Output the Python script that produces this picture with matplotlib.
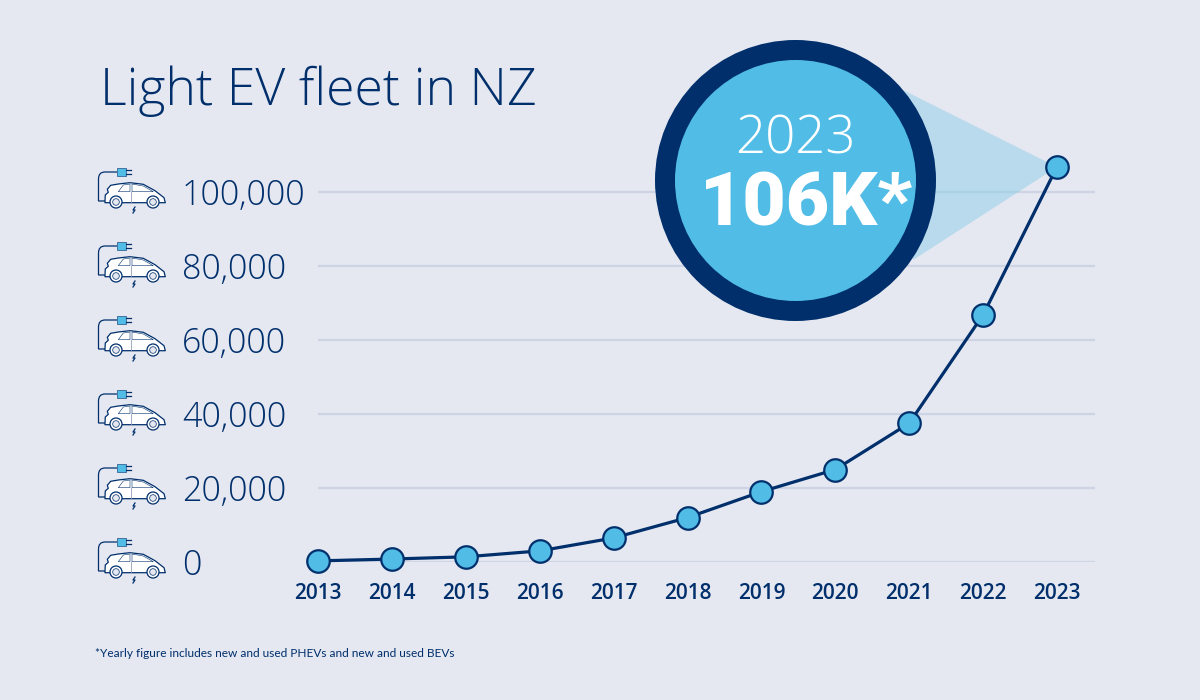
import matplotlib
matplotlib.use('Agg')
import matplotlib.pyplot as plt
from matplotlib.patches import Circle, Polygon, Rectangle, PathPatch
from matplotlib.path import Path

years = [2013, 2014, 2015, 2016, 2017, 2018, 2019, 2020, 2021, 2022, 2023]
fleet = [300, 800, 1400, 3000, 6500, 12000, 19000, 25000, 37500, 66800, 106800]
y_ticks = [0, 20000, 40000, 60000, 80000, 100000]
y_labels = ['0', '20,000', '40,000', '60,000', '80,000', '100,000']

NAVY = '#002F6C'
BLUE = '#51BCE6'
BG = '#E5E8F1'
GRID = '#CDD4E4'
W, H = 1200, 700

plt.rcParams['font.family'] = ['Open Sans', 'DejaVu Sans']

fig = plt.figure(figsize=(12, 7), dpi=100, facecolor=BG)

# chart axes: left edge is 2013, bottom edge is 0
ax = fig.add_axes([318 / W, (H - 562) / H, (1095 - 318) / W, (562 - 150) / H], zorder=1)
ax.set_facecolor('none')
ax.set_xlim(2013, 2013 + (1095 - 318) / 73.9)
ax.set_ylim(0, (562 - 150) / 3.7 * 1000)
for s in ax.spines.values():
    s.set_visible(False)

ax.set_axisbelow(True)
ax.set_yticks(y_ticks)
ax.set_yticklabels(y_labels, ha='left', va='center_baseline', fontsize=24.5, color=NAVY, fontweight='light')
ax.tick_params(axis='y', length=0, pad=98)
ax.grid(axis='y', color=GRID, lw=1.6)
ax.set_xticks(years)
ax.set_xticklabels(years, fontsize=15, color=NAVY, fontweight='semibold')
ax.tick_params(axis='x', length=0, pad=15)

ax.plot(years, fleet, color=NAVY, lw=2.3, marker='o', ms=16.2, mfc=BLUE, mec=NAVY,
        mew=1.6, clip_on=False, zorder=3)

# pixel axes for the callout and the icons
deco = fig.add_axes([0, 0, 1, 1], zorder=2)
deco.set_xlim(0, W)
deco.set_ylim(H, 0)
deco.axis('off')

ax.add_patch(Polygon([(903, 90), (1057, 167), (913, 260)], closed=True, transform=deco.transData,
                     fc='#8CCDE9', alpha=0.5, ec='none', zorder=1, clip_on=False))
deco.add_patch(Circle((795.5, 180.5), 140.5, fc=NAVY, ec='none'))
deco.add_patch(Circle((795.5, 180.5), 120.5, fc=BLUE, ec='none'))
deco.text(795, 153, '2023', color='white', fontsize=38, fontweight='light', ha='center', va='baseline')
deco.text(806, 225, '106K*', color='white', fontsize=54, fontweight='black', family='Roboto',
          ha='center', va='baseline')

deco.text(100, 105, 'Light EV fleet in NZ', color=NAVY, fontsize=37.3, fontweight='light',
          ha='left', va='baseline')
deco.text(95, 657, '*Yearly figure includes new and used PHEVs and new and used BEVs', color=NAVY,
          fontsize=8.6, family='Lato', ha='left', va='baseline')


def car_icon(y):
    # icon outline in pixels, relative to the gridline height y
    def p(x0, y0):
        return (x0, y + y0)
    cable = Path([p(107, 9), p(98.5, 9), p(98.5, -13), p(98.5, -20), p(105, -20), p(117, -20)],
                 [Path.MOVETO, Path.LINETO, Path.LINETO, Path.CURVE3, Path.CURVE3, Path.LINETO])
    deco.add_patch(PathPatch(cable, fc='none', ec=NAVY, lw=0.9))
    deco.add_patch(Rectangle(p(117, -24), 9, 8, fc=BLUE, ec=NAVY, lw=0.4))
    deco.plot([126, 131], [y - 22, y - 22], color=NAVY, lw=0.9)
    deco.plot([126, 131], [y - 18, y - 18], color=NAVY, lw=0.9)
    body = [p(105, 8.7), p(105.3, 3), p(108.3, 0.3), p(107.3, -2.7), p(110.7, -6.7), p(118.3, -8),
            p(130, -9.3), p(143.3, -7.7), p(155, -1.3), p(164, 5.7), p(165.3, 10.7), p(105, 10.7)]
    deco.add_patch(Polygon(body, closed=True, fc='white', ec=NAVY, lw=0.9, joinstyle='round'))
    deco.add_patch(Polygon([p(118.3, -0.3), p(123.3, -7), p(130, -8), p(130, -0.3)], closed=True,
                           fc='white', ec=NAVY, lw=0.4))
    deco.add_patch(Polygon([p(132, -8), p(143.3, -6), p(153.3, -0.3), p(132, -0.3)], closed=True,
                           fc='white', ec=NAVY, lw=0.4))
    deco.plot([131, 131], [y - 0.3, y + 10], color='#8D9DBD', lw=0.6)
    for cx in (116, 153):
        deco.add_patch(Circle(p(cx, 10), 6, fc='white', ec=NAVY, lw=0.9))
        deco.add_patch(Circle(p(cx, 10), 3.3, fc='#E5E8F1', ec=NAVY, lw=0.5))
    deco.plot([135, 133, 135, 133], [y + 15, y + 18, y + 18, y + 21], color=NAVY, lw=0.9)


for t in y_ticks:
    car_icon(562 - t * 3.7 / 1000)

fig.savefig('out.png', dpi=100, facecolor=BG)
